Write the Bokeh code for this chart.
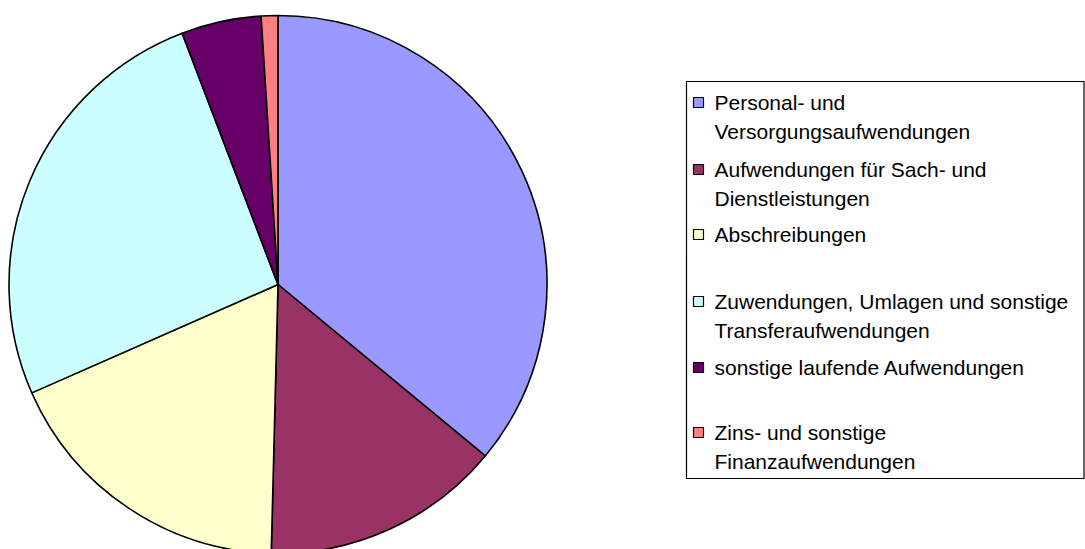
import numpy as np
from bokeh.plotting import figure
from bokeh.models import Range1d, ColumnDataSource
from bokeh.core.properties import value
from bokeh.embed import file_html
from bokeh.resources import INLINE

# ---- data ----
categories = [
    "Personal- und Versorgungsaufwendungen",
    "Aufwendungen für Sach- und Dienstleistungen",
    "Abschreibungen",
    "Zuwendungen, Umlagen und sonstige Transferaufwendungen",
    "sonstige laufende Aufwendungen",
    "Zins- und sonstige Finanzaufwendungen",
]
legend_lines = [
    ["Personal- und", "Versorgungsaufwendungen"],
    ["Aufwendungen für Sach- und", "Dienstleistungen"],
    ["Abschreibungen"],
    ["Zuwendungen, Umlagen und sonstige", "Transferaufwendungen"],
    ["sonstige laufende Aufwendungen"],
    ["Zins- und sonstige", "Finanzaufwendungen"],
]
shares = [36.0, 14.4, 18.0, 25.8, 4.8, 1.0]
colors = ["#9999FF", "#993366", "#FFFFCC", "#CCFFFF", "#660066", "#FF8080"]

W, H = 1085, 549
p = figure(width=W, height=H, output_backend="svg", toolbar_location=None,
           x_range=Range1d(0, W), y_range=Range1d(0, H),
           min_border=0, outline_line_color=None)
p.axis.visible = False
p.grid.visible = False

def px(X, Y):
    # screenshot pixel -> data coords
    return X, H - Y

# ---- pie ----
vals = np.array(shares, dtype=float)
frac = vals / vals.sum()
cum_end = np.cumsum(frac)
cum_start = cum_end - frac
start = np.pi / 2 - cum_end * 2 * np.pi
end = np.pi / 2 - cum_start * 2 * np.pi
cx, cy = px(277.5, 284)
src = ColumnDataSource(dict(start=start, end=end, color=colors, cat=categories))
p.wedge(x=cx, y=cy, radius=269, start_angle="start", end_angle="end",
        fill_color="color", line_color="black", line_width=1.6, source=src)

# ---- legend ----
bx0, by0 = px(686, 81)
bx1, by1 = px(1083.5, 478)
p.quad(left=bx0, right=bx1, top=by0, bottom=by1, fill_color="white",
       line_color="black", line_width=1.2)

entry_y = [102, 169, 234, 301, 367, 432]
line_gap = 28.5
tx, ty, tt = [], [], []
mx, my = [], []
for lines, Y in zip(legend_lines, entry_y):
    mxx, myy = px(698, Y)
    mx.append(mxx); my.append(myy)
    for k, s in enumerate(lines):
        xx, yy = px(714, Y + k * line_gap)
        tx.append(xx); ty.append(yy); tt.append(s)

p.rect(x=mx, y=my, width=10, height=10, fill_color=colors,
       line_color="black", line_width=1.2)
p.text(x=tx, y=ty, text=tt, text_font=value("Liberation Sans"),
       text_font_size="21px", text_baseline="middle", text_align="left",
       text_color="black")

open("out.html", "w").write(file_html(p, INLINE))
